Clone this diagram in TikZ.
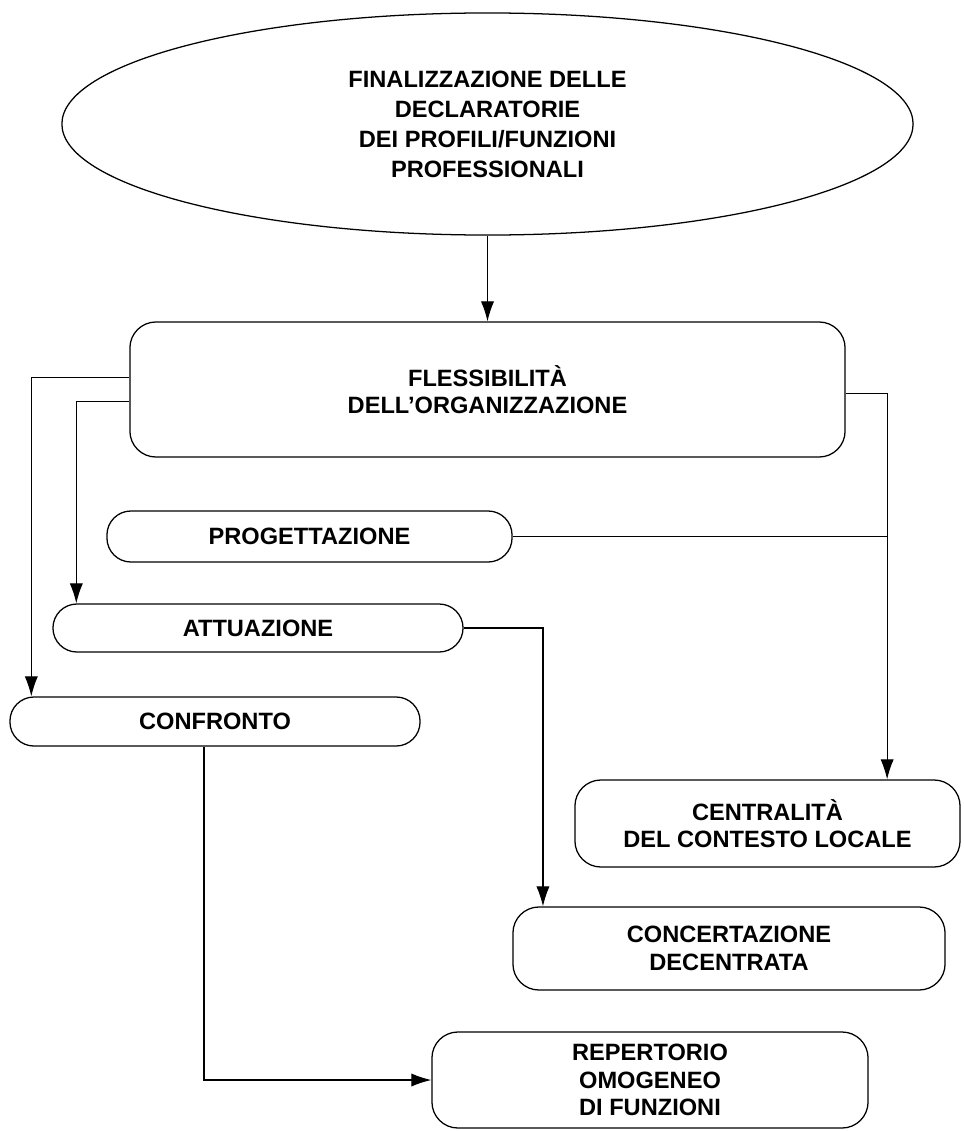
\documentclass[tikz,border=0pt]{standalone}
\usepackage{fontspec}
\setmainfont{Liberation Sans}
\usetikzlibrary{shapes.geometric, arrows.meta}

\begin{document}
\begin{tikzpicture}[x=0.025cm, y=-0.025cm,
  every node/.style={font=\fontsize{16.8}{19.5}\selectfont\bfseries, align=center, inner sep=0pt},
  box/.style={draw, line width=0.9pt, rounded corners=0.65cm},
  pill/.style={draw, line width=0.9pt, rounded corners=0.6cm},
  link/.style={line width=0.8pt},
  arr/.style={link, -{Latex[length=0.5cm, width=0.33cm]}}]

% Frame of the page
\useasboundingbox (0,0) rectangle (963,1131);

% Top ellipse
\node[draw, ellipse, line width=0.9pt, minimum width=21.275cm, minimum height=5.55cm,
  font=\fontsize{16.8}{21.3}\selectfont\bfseries] (fin) at (487.5,124)
  {FINALIZZAZIONE DELLE\\DECLARATORIE\\DEI PROFILI/FUNZIONI\\PROFESSIONALI};

% Central box
\node[box, minimum width=17.875cm, minimum height=3.375cm] (flex) at (487.5,389.5)
  {FLESSIBILITÀ\\DELL'ORGANIZZAZIONE};

% Three phases
\node[pill, minimum width=10.125cm, minimum height=1.275cm] (prog) at (309.5,536.5) {PROGETTAZIONE};
\node[pill, minimum width=10.25cm, minimum height=1.2cm] (att) at (258,628) {ATTUAZIONE};
\node[pill, minimum width=10.25cm, minimum height=1.225cm] (conf) at (215,721.5) {CONFRONTO};

% Outcomes
\node[box, minimum width=9.625cm, minimum height=2.175cm] (cent) at (767.5,823.5)
  {CENTRALITÀ\\DEL CONTESTO LOCALE};
\node[box, minimum width=10.8cm, minimum height=2.075cm] (conc) at (729,948.5)
  {CONCERTAZIONE\\DECENTRATA};
\node[box, minimum width=10.9cm, minimum height=2.4cm] (rep) at (650,1080)
  {REPERTORIO\\OMOGENEO\\DI FUNZIONI};

% Connectors
\coordinate (jr) at ([xshift=2.99cm]cent.north);
\draw[arr] (fin.south) -- (flex.north);
\draw[arr] ([yshift=0.31cm]flex.west) -| ([xshift=0.55cm]conf.north west);
\draw[arr] ([yshift=-0.31cm]flex.west) -| ([xshift=0.6cm]att.north west);
\draw[arr] ([yshift=-0.09cm]flex.east) -| (jr);
\draw[link] (prog.east) -- (prog.east -| jr);
\draw[arr] (att.east) -| ([xshift=-4.65cm]conc.north);
\draw[arr] ([xshift=-0.275cm]conf.south) |- (rep.west);

\end{tikzpicture}
\end{document}
